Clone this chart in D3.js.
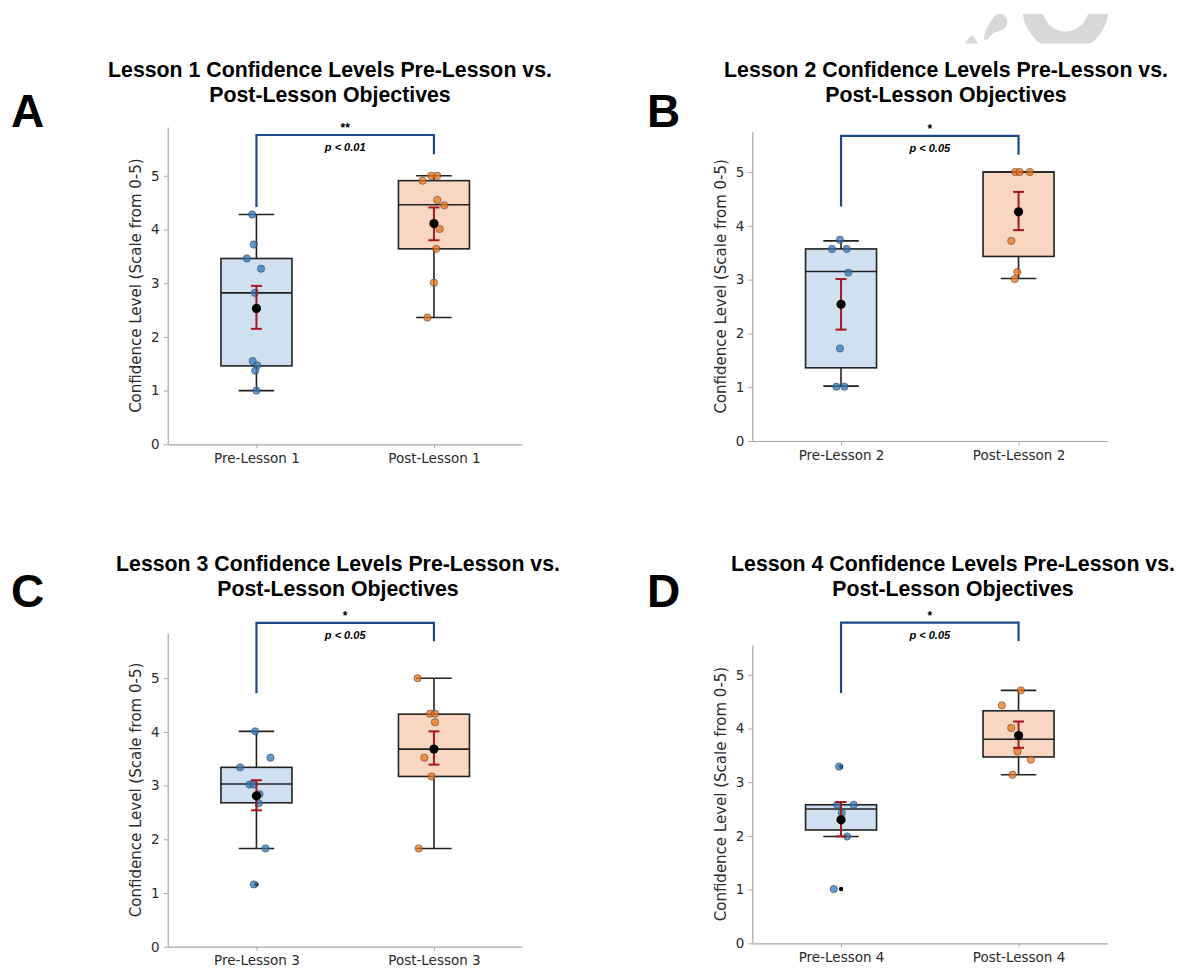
<!DOCTYPE html>
<html>
<head>
<meta charset="utf-8">
<script src="https://cdn.jsdelivr.net/npm/d3@7"></script>
<style>
  body { margin: 0; background: #fff; }
  svg { display: block; }
</style>
</head>
<body>
<svg id="chart"></svg>
<script>
const width = 1180;
const height = 970;

// ---- data ----
const lessons = ["1", "2", "3", "4"];
const panelLetters = ["A", "B", "C", "D"];
const yMax = [5.91, 5.75, 5.84, 5.56];

// individual scores
const preScores = [
  [4.28, 3.72, 3.46, 3.27, 2.82, 1.55, 1.47, 1.37, 1.00],
  [3.74, 3.57, 3.57, 3.13, 1.72, 1.01, 1.01],
  [4.01, 3.52, 3.34, 3.02, 3.02, 2.84, 2.67, 1.83, 1.16],
  [3.29, 2.58, 2.58, 2.43, 1.99, 1.01]
];
const postScores = [
  [4.91, 5.00, 5.00, 4.55, 4.45, 4.01, 3.64, 3.01, 2.36],
  [5.00, 5.00, 5.00, 3.72, 3.14, 3.01],
  [5.00, 4.34, 4.34, 4.18, 3.52, 3.17, 1.83],
  [4.71, 4.43, 4.01, 3.57, 3.42, 3.14]
];
// strip-plot jitter (fraction of category spacing)
const preJitter = [
  [-0.024, -0.015, -0.054, 0.026, -0.009, -0.021, 0.004, -0.007, 0],
  [-0.006, -0.051, 0.032, 0.041, -0.006, -0.026, 0.019],
  [-0.007, 0.079, -0.092, -0.039, -0.015, 0.017, 0.013, 0.051, -0.015],
  [-0.011, -0.022, 0.071, 0.004, 0.034, -0.041]
];
const postJitter = [
  [-0.064, -0.015, 0.019, 0.019, 0.058, 0.032, 0.013, 0, -0.037],
  [-0.019, 0.006, 0.064, -0.041, -0.007, -0.021],
  [-0.092, -0.022, 0.006, 0.006, -0.054, -0.013, -0.086],
  [0.013, -0.094, -0.041, -0.006, 0.069, -0.034]
];

// box stats: [whisker low, q1, median, q3, whisker high]
const preBox = [
  [1.00, 1.46, 2.82, 3.46, 4.28],
  [1.02, 1.36, 3.15, 3.57, 3.72],
  [1.83, 2.68, 3.03, 3.34, 4.01],
  [1.99, 2.11, 2.50, 2.58, 2.58]
];
const postBox = [
  [2.36, 3.64, 4.46, 4.91, 5.00],
  [3.02, 3.43, 5.00, 5.00, 5.00],
  [1.83, 3.17, 3.68, 4.33, 5.00],
  [3.14, 3.47, 3.80, 4.33, 4.71]
];
const preOutliers = [[], [], [1.16], [3.29, 1.01]];
const postOutliers = [[], [], [], []];

// mean and standard-error bounds
const preMean = [2.53, 2.54, 2.81, 2.30];
const postMean = [4.11, 4.26, 3.68, 3.87];
const preSE = [[2.15, 2.95], [2.07, 3.01], [2.54, 3.10], [1.99, 2.63]];
const postSE = [[3.80, 4.41], [3.92, 4.63], [3.39, 4.01], [3.64, 4.13]];

// significance annotation
const stars = ["**", "*", "*", "*"];
const pLabels = ["p < 0.01", "p < 0.05", "p < 0.05", "p < 0.05"];
const bracketTop = [5.76, 5.67, 6.03, 5.97];
const bracketLeft = [4.42, 4.36, 4.72, 4.66];
const bracketRight = [5.40, 5.32, 5.69, 5.63];

const yTicks = [0, 1, 2, 3, 4, 5];

// ---- layout ----
const panels = [
  { left: 167.7, bottom: 444.3, unit: 53.7, titleX: 330, titleY: 77, letterX: 11, letterY: 127 },
  { left: 752.3, bottom: 441.0, unit: 53.8, titleX: 946, titleY: 77, letterX: 647, letterY: 127 },
  { left: 167.7, bottom: 946.7, unit: 53.7, titleX: 338, titleY: 571, letterX: 11, letterY: 607 },
  { left: 752.3, bottom: 943.3, unit: 53.7, titleX: 953, titleY: 571, letterX: 647, letterY: 607 }
];
const plotW = 355;

const fills = ["#cfe0f1", "#f9d6c0"];
const dotColors = ["#2f78bd", "#ee7417"];

const svg = d3.select("#chart")
  .attr("width", width)
  .attr("height", height);

svg.append("rect").attr("width", width).attr("height", height).attr("fill", "#fff");

// faint grey graphic cut off at the top right
const clip = svg.append("clipPath").attr("id", "wm-clip");
clip.append("rect").attr("x", 900).attr("y", 14).attr("width", 280).attr("height", 29.5);
const wm = svg.append("g").attr("clip-path", "url(#wm-clip)").attr("fill", "#d8d8d8");
wm.append("path")
  .attr("transform", "translate(1065.5,8.5)")
  .attr("d", d3.arc()({ innerRadius: 23, outerRadius: 43, startAngle: 0, endAngle: 2 * Math.PI }));
wm.append("path")
  .attr("d", "M1000,14 C1009,15 1010,27 1002,30 C996,32 992,33 988,39 L984,40 C984,31 989,24 993,18 C995,15 997,14 1000,14 Z");
wm.append("path").attr("d", "M964,44 L972,35 L979,44 Z");

panels.forEach(function(p, i) {
  const g = svg.append("g");
  const cats = ["Pre-Lesson " + lessons[i], "Post-Lesson " + lessons[i]];

  const x = d3.scalePoint()
    .domain(cats)
    .range([p.left, p.left + plotW])
    .padding(0.5);
  const step = x.step();

  const y = d3.scaleLinear()
    .domain([0, yMax[i]])
    .range([p.bottom, p.bottom - yMax[i] * p.unit]);

  // panel letter + title
  svg.append("text")
    .attr("x", p.letterX).attr("y", p.letterY)
    .attr("font-family", "Liberation Sans, Arial, sans-serif")
    .attr("font-weight", "bold")
    .attr("font-size", 46)
    .text(panelLetters[i]);

  const title = svg.append("text")
    .attr("text-anchor", "middle")
    .attr("font-family", "Liberation Sans, Arial, sans-serif")
    .attr("font-weight", "bold")
    .attr("font-size", 21.3)
    .attr("fill", "#000");
  title.append("tspan").attr("x", p.titleX).attr("y", p.titleY)
    .text("Lesson " + lessons[i] + " Confidence Levels Pre-Lesson vs.");
  title.append("tspan").attr("x", p.titleX).attr("y", p.titleY + 24.5)
    .text("Post-Lesson Objectives");

  // axes
  const yAxis = g.append("g")
    .attr("transform", `translate(${p.left},0)`)
    .call(d3.axisLeft(y).tickValues(yTicks).tickFormat(d3.format("d"))
      .tickSize(4).tickSizeOuter(0).tickPadding(4));
  const xAxis = g.append("g")
    .attr("transform", `translate(0,${p.bottom})`)
    .call(d3.axisBottom(x).tickSize(4).tickSizeOuter(0).tickPadding(5));

  [yAxis, xAxis].forEach(function(a) {
    a.select(".domain").attr("stroke", "#a8a8a8").attr("stroke-width", 1.2);
    a.selectAll(".tick line").attr("stroke", "#a8a8a8");
    a.selectAll(".tick text")
      .attr("fill", "#2b2b2b")
      .attr("font-family", "DejaVu Sans, sans-serif")
      .attr("font-size", 13.5);
  });

  g.append("text")
    .attr("transform", `translate(${p.left - 31},${(p.bottom + y(yMax[i])) / 2}) rotate(-90)`)
    .attr("text-anchor", "middle")
    .attr("dominant-baseline", "middle")
    .attr("font-family", "DejaVu Sans, sans-serif")
    .attr("font-size", 15)
    .attr("fill", "#2b2b2b")
    .text("Confidence Level (Scale from 0-5)");

  const groups = [
    { cat: cats[0], scores: preScores[i], jitter: preJitter[i], box: preBox[i], out: preOutliers[i], mean: preMean[i], se: preSE[i] },
    { cat: cats[1], scores: postScores[i], jitter: postJitter[i], box: postBox[i], out: postOutliers[i], mean: postMean[i], se: postSE[i] }
  ];

  groups.forEach(function(d, k) {
    const cx = x(d.cat);
    const bw = step * 0.4;
    const capW = step * 0.2;
    const [wLo, q1, med, q3, wHi] = d.box;

    // whiskers
    g.append("line").attr("x1", cx).attr("x2", cx).attr("y1", y(wLo)).attr("y2", y(q1))
      .attr("stroke", "#222").attr("stroke-width", 1.6);
    g.append("line").attr("x1", cx).attr("x2", cx).attr("y1", y(q3)).attr("y2", y(wHi))
      .attr("stroke", "#222").attr("stroke-width", 1.6);
    [wLo, wHi].forEach(function(v) {
      g.append("line").attr("x1", cx - capW / 2).attr("x2", cx + capW / 2)
        .attr("y1", y(v)).attr("y2", y(v))
        .attr("stroke", "#222").attr("stroke-width", 1.6);
    });

    // box
    g.append("rect")
      .attr("x", cx - bw / 2).attr("width", bw)
      .attr("y", y(q3)).attr("height", y(q1) - y(q3))
      .attr("fill", fills[k])
      .attr("stroke", "#222").attr("stroke-width", 1.6);
    g.append("line").attr("x1", cx - bw / 2).attr("x2", cx + bw / 2)
      .attr("y1", y(med)).attr("y2", y(med))
      .attr("stroke", "#222").attr("stroke-width", 1.6);

    // outliers
    g.selectAll(null).data(d.out).join("circle")
      .attr("cx", cx).attr("cy", v => y(v)).attr("r", 2.2).attr("fill", "#000");

    // individual scores
    g.selectAll(null).data(d.scores).join("circle")
      .attr("cx", (v, j) => cx + d.jitter[j] * step)
      .attr("cy", v => y(v))
      .attr("r", 3.7)
      .attr("fill", dotColors[k])
      .attr("fill-opacity", 0.75)
      .attr("stroke", "#3a3a3a")
      .attr("stroke-opacity", 0.7)
      .attr("stroke-width", 0.7);

    // standard-error bar
    const ebColor = "#a3191b";
    g.append("line").attr("x1", cx).attr("x2", cx).attr("y1", y(d.se[0])).attr("y2", y(d.se[1]))
      .attr("stroke", ebColor).attr("stroke-width", 2);
    d.se.forEach(function(v) {
      g.append("line").attr("x1", cx - 5.5).attr("x2", cx + 5.5).attr("y1", y(v)).attr("y2", y(v))
        .attr("stroke", ebColor).attr("stroke-width", 2);
    });

    // mean
    g.append("circle").attr("cx", cx).attr("cy", y(d.mean)).attr("r", 4.6).attr("fill", "#000");
  });

  // significance bracket
  const xl = x(cats[0]);
  const xr = x(cats[1]);
  g.append("path")
    .attr("d", `M${xl},${y(bracketLeft[i])} V${y(bracketTop[i])} H${xr} V${y(bracketRight[i])}`)
    .attr("fill", "none")
    .attr("stroke", "#1b4a86")
    .attr("stroke-width", 2.2);
  g.append("text")
    .attr("x", (xl + xr) / 2).attr("y", y(bracketTop[i]) - 3)
    .attr("text-anchor", "middle")
    .attr("font-family", "Liberation Sans, Arial, sans-serif")
    .attr("font-weight", "bold")
    .attr("font-size", 12)
    .text(stars[i]);
  g.append("text")
    .attr("x", (xl + xr) / 2).attr("y", y(bracketTop[i]) + 16)
    .attr("text-anchor", "middle")
    .attr("font-family", "Liberation Sans, Arial, sans-serif")
    .attr("font-weight", "bold")
    .attr("font-style", "italic")
    .attr("font-size", 11)
    .text(pLabels[i]);
});
</script>
</body>
</html>
